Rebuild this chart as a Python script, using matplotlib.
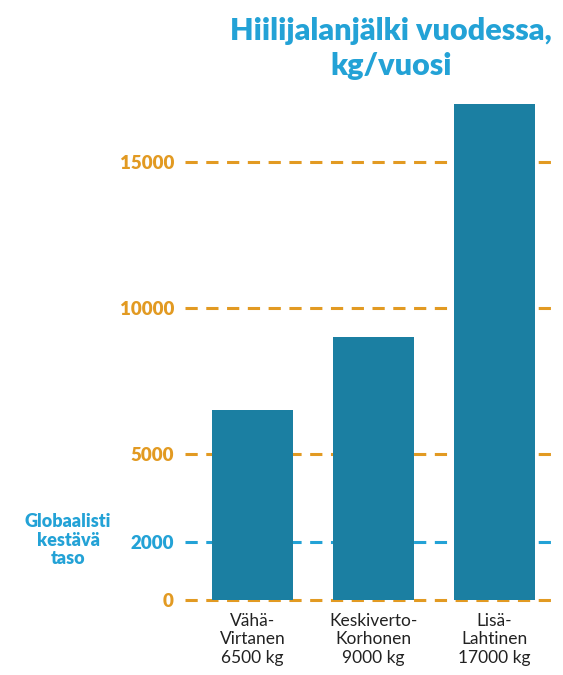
import matplotlib.pyplot as plt

plt.rcParams['font.family'] = ['Lato', 'DejaVu Sans']

# data
names = ["Vähä-\nVirtanen", "Keskiverto-\nKorhonen", "Lisä-\nLahtinen"]
values = [6500, 9000, 17000]
yticks = [0, 2000, 5000, 10000, 15000]
target = 2000

bar_color = "#1b7fa2"
orange = "#e29a22"
blue = "#23a2d6"

fig = plt.figure(figsize=(5.63, 6.75), dpi=100)
ax = fig.add_axes([0.3286, 0.1111, 0.657, 0.7348])

x = range(len(values))
ax.bar(x, values, width=0.67, color=bar_color, zorder=3)

# dashed reference lines
for t in yticks:
    c = blue if t == target else orange
    ax.axhline(t, color=c, lw=2.2, dashes=(4, 2.8), zorder=1, clip_on=False)

ax.set_xlim(-0.56, 2.5)
ax.set_ylim(0, 17000)
for s in ax.spines.values():
    s.set_visible(False)

ax.set_yticks(yticks)
ax.set_yticklabels([str(t) for t in yticks], fontsize=13.5, fontweight="heavy")
for lbl, t in zip(ax.get_yticklabels(), yticks):
    lbl.set_color(blue if t == target else orange)
ax.tick_params(axis="y", length=0, pad=8)

ax.set_xticks(list(x))
ax.set_xticklabels([f"{n}\n{v} kg" for n, v in zip(names, values)],
                   fontsize=12.5, color="#222222", linespacing=1.2)
ax.tick_params(axis="x", length=0, pad=9)

fig.text(0.121, 1 - 540 / 675, "Globaalisti\nkestävä\ntaso",
         ha="center", va="center", fontsize=13, fontweight="heavy", color=blue,
         linespacing=1.1)

fig.text(0.695, 0.975, "Hiilijalanjälki vuodessa,\nkg/vuosi", ha="center", va="top",
         fontsize=22, fontweight="heavy", color=blue, linespacing=1.3)

fig.savefig("out.png")
